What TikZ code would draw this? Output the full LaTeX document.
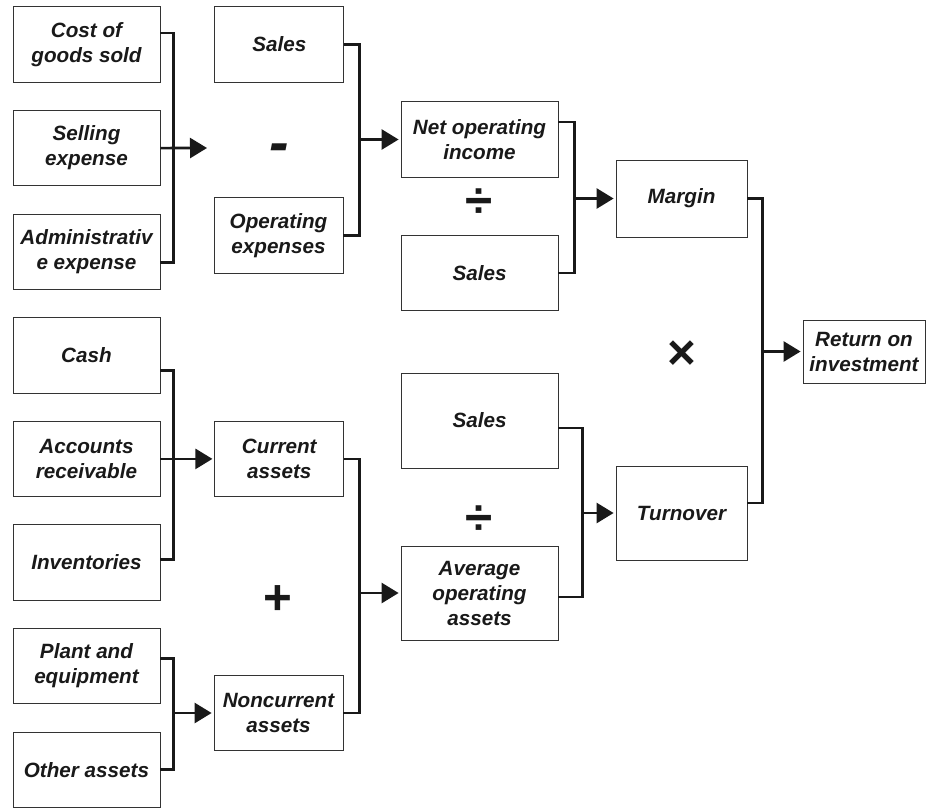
\documentclass[tikz,border=0pt]{standalone}
\usepackage{fontspec}
\setmainfont{Liberation Sans}
\usetikzlibrary{positioning,arrows.meta}
\tikzset{>={Triangle[length=12.75pt,width=15pt]}}
\tikzset{
  box/.style 2 args={draw=black!80,line width=0.6pt,minimum width=#1,minimum height=#2,
    inner sep=0pt,align=center,text=black!90,
    font=\fontsize{15.5}{18.75}\selectfont\bfseries\itshape},
  leaf/.style={box={110.25pt}{56.6pt}},
  part/.style={box={96.75pt}{56.6pt}},
  term/.style={box={117.75pt}{56.6pt}},
  tallterm/.style={box={117.75pt}{70.5pt}},
  factor/.style={box={98.25pt}{57.75pt}},
  link/.style={line width=2pt,black!90},
  op/.style={inner sep=0pt,text=black!90,font=\fontsize{37}{37}\selectfont\bfseries},
}
% two boxes joined by a bracket, arrow into #4
\def\duo#1#2#3#4{
  \draw[link] (#1) -- ++(#3,0) coordinate (brk) |- (#2);
  \draw[link,->,shorten >=1.5pt] (brk |- #4) -- (#4);
}
% three boxes, the middle one runs straight into #5
\def\trio#1#2#3#4#5{
  \draw[link] (#1) -- ++(#4,0) |- (#3);
  \draw[link,->,shorten >=1.5pt] (#2) -- (#5);
}
\begin{document}
\begin{tikzpicture}[x=0.75pt,y=-0.75pt,node distance=20.5pt]
\useasboundingbox (0,0) rectangle (930,807);
% first column
\node[leaf] (cogs) at (86.5,44.5) {Cost of\\goods sold};
\node[leaf,below=of cogs] (sell) {Selling\\expense};
\node[leaf,below=of sell] (admin) {Administrativ\\e expense};
\node[leaf,below=of admin] (cash) {Cash};
\node[leaf,below=of cash] (ar) {Accounts\\receivable};
\node[leaf,below=of ar] (inv) {Inventories};
\node[leaf,below=of inv] (plant) {Plant and\\equipment};
\node[leaf,below=of plant] (other) {Other assets};
% second column
\node[part,right=40.5pt of cogs] (sales1) {Sales};
\node[part] (opex) at (278.5,235.5) {Operating\\expenses};
\node[part,right=40.5pt of ar] (cur) {Current\\assets};
\node[part] (noncur) at (278.5,713) {Noncurrent\\assets};
\coordinate (minusin) at (209,148);
% third column
\node[term] (noi) at (479.5,139.5) {Net operating\\income};
\node[term] (sales2) at (479.5,273) {Sales};
\node[tallterm,minimum height=71.25pt] (sales3) at (479.5,420.5) {Sales};
\node[tallterm] (avg) at (479.5,593) {Average\\operating\\assets};
% fourth column
\node[factor] (margin) at (681.5,198.5) {Margin};
\node[factor,minimum height=70.5pt] (turn) at (681.5,513) {Turnover};
\node[box={91.5pt}{47.25pt}] (roi) at (864,351.5) {Return on\\investment};
% operators
\node[op,font=\fontsize{44}{44}\selectfont\bfseries\itshape] (minus) at (279,153) {-};
\node[op] (div1) at (479,203) {÷};
\node[op] (times) at (682,355) {×};
\node[op] (div2) at (479,520) {÷};
\node[op] (plus) at (278,600) {+};
% connectors
\trio{[yshift=8.6pt]cogs.east}{sell.east}{[yshift=-8.25pt]admin.east}{13}{minusin}
\duo{sales1.east}{opex.east}{15}{noi.west}
\duo{[yshift=13.1pt]noi.east}{sales2.east}{16}{margin.west}
\duo{margin.east}{[yshift=7.5pt]turn.east}{15}{roi.west}
\trio{[yshift=-11.6pt]cash.east}{ar.east}{[yshift=2.25pt]inv.east}{13}{cur.west}
\duo{cur.east}{noncur.east}{15}{avg.west}
\duo{[yshift=-5.6pt]sales3.east}{[yshift=-3pt]avg.east}{24}{turn.west}
\duo{[yshift=5.6pt]plant.east}{other.east}{13}{noncur.west}
\end{tikzpicture}
\end{document}
